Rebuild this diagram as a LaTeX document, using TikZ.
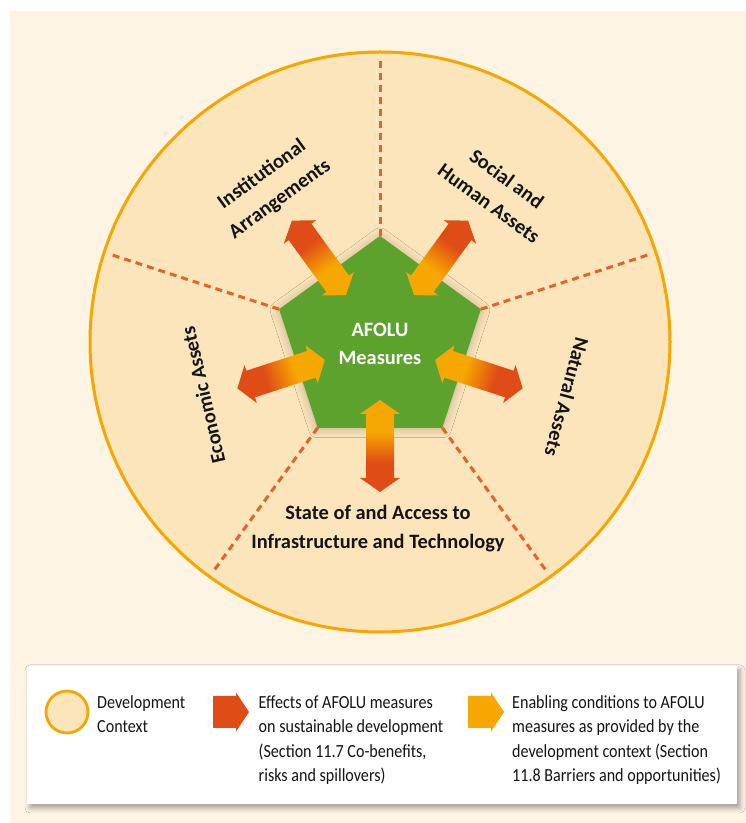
\documentclass[tikz,border=0pt]{standalone}
\usepackage{fontspec}
\setmainfont{Carlito}
\newfontfamily\legfont[FakeStretch=0.87]{Carlito}
\usetikzlibrary{shapes.geometric,calc,shadows.blur}
\definecolor{bgcream}{RGB}{253,244,228}
\definecolor{ctxfill}{RGB}{252,229,187}
\definecolor{ctxline}{RGB}{246,166,0}
\definecolor{dashcol}{RGB}{226,100,40}
\definecolor{pentgreen}{RGB}{92,162,44}
\definecolor{ared}{RGB}{224,76,22}
\definecolor{ayel}{RGB}{247,168,0}
\definecolor{txt}{RGB}{20,20,20}
\pgfdeclarehorizontalshading{arrowgrad}{100bp}{color(0bp)=(ayel); color(42bp)=(ayel); color(59bp)=(ared); color(100bp)=(ared)}
\tikzset{
  dashline/.style={draw=dashcol, line width=3pt, dash pattern=on 7pt off 5pt},
  mainlabel/.style={text=txt, font=\fontsize{20.4}{29}\selectfont\bfseries, align=center, inner sep=0pt},
  rotlabel/.style={mainlabel, font=\fontsize{20.4}{30.5}\selectfont\bfseries},
  legtext/.style={text=txt, font=\legfont\fontsize{18.5}{24.5}\selectfont, align=left, inner sep=0pt, anchor=base west},
}
\begin{document}
\begin{tikzpicture}[x=1pt,y=1pt]
\useasboundingbox (0,0) rectangle (746,823);
\fill[white] (0,0) rectangle (746,823);
\fill[bgcream] (10,0) rectangle (746,812);
% development context circle
\node[circle, minimum size=580pt, inner sep=0pt, outer sep=0pt, fill=ctxfill, draw=ctxline, line width=3pt] (ctx) at (380,481) {};
% pentagon
\node[regular polygon, regular polygon sides=5, minimum size=212pt, inner sep=0pt, outer sep=0pt,
      fill=pentgreen, blur shadow={shadow xshift=0pt, shadow yshift=-1pt, shadow blur radius=9pt, shadow opacity=25}] (pent) at (380,481) {};
% dashed sector dividers
\foreach \i in {1,...,5} {
  \coordinate (rim\i) at ($(pent.center)!283pt!(pent.corner \i)$);
  \draw[dashline] (pent.corner \i) -- (rim\i);
}
\node[text=white, font=\fontsize{20.4}{28}\selectfont\bfseries, align=center, inner sep=0pt] (afolu) at (380,479) {AFOLU\\Measures};
% double arrows
\foreach \ang in {126,54,-18,-90,198} {
  \begin{scope}[transform canvas={rotate around={\ang:(380,481)}}]
    \shade[shading=arrowgrad] (438,481) -- (452,501) -- (452,495) -- (516,495) -- (516,501) -- (530,481)
      -- (516,461) -- (516,467) -- (452,467) -- (452,461) -- cycle;
  \end{scope}
}
% sector labels
\node[rotlabel, rotate=36] (inst) at (271,636) {Institutional\\Arrangements};
\node[rotlabel, rotate=-36] (soc) at (498,632) {Social and\\Human Assets};
\node[mainlabel, rotate=103] (econ) at (203,428) {Economic Assets};
\node[mainlabel, rotate=-105] (nat) at (567,426) {Natural Assets};
\node[mainlabel] (infra) at (378,294) {State of and Access to\\Infrastructure and Technology};
% legend
\node[rectangle, minimum width=710pt, minimum height=138pt, inner sep=0pt, fill=white,
      blur shadow={shadow xshift=3pt, shadow yshift=-4pt, shadow blur radius=5pt, shadow opacity=35}] (legbox) at (382,88) {};
\node[circle, minimum size=42pt, inner sep=0pt, fill=ctxfill, draw=ctxline, line width=2.8pt] (legcirc) at (67,111) {};
\node[legtext] (legctx) at (97,90.5) {Development\\Context};
\fill[ared] (213,95) -- (236,95) -- (236,91.5) -- (249,111) -- (236,130.5) -- (236,127) -- (213,127) -- cycle;
\node[legtext] (legeff) at (258.5,41.5) {Effects of AFOLU measures\\on sustainable development\\(Section 11.7 Co-benefits,\\risks and spillovers)};
\fill[ayel] (468,95) -- (491,95) -- (491,91.5) -- (504,111) -- (491,130.5) -- (491,127) -- (468,127) -- cycle;
\node[legtext] (legen) at (512,41.5) {Enabling conditions to AFOLU\\measures as provided by the\\development context (Section\\11.8 Barriers and opportunities)};
\end{tikzpicture}
\end{document}
